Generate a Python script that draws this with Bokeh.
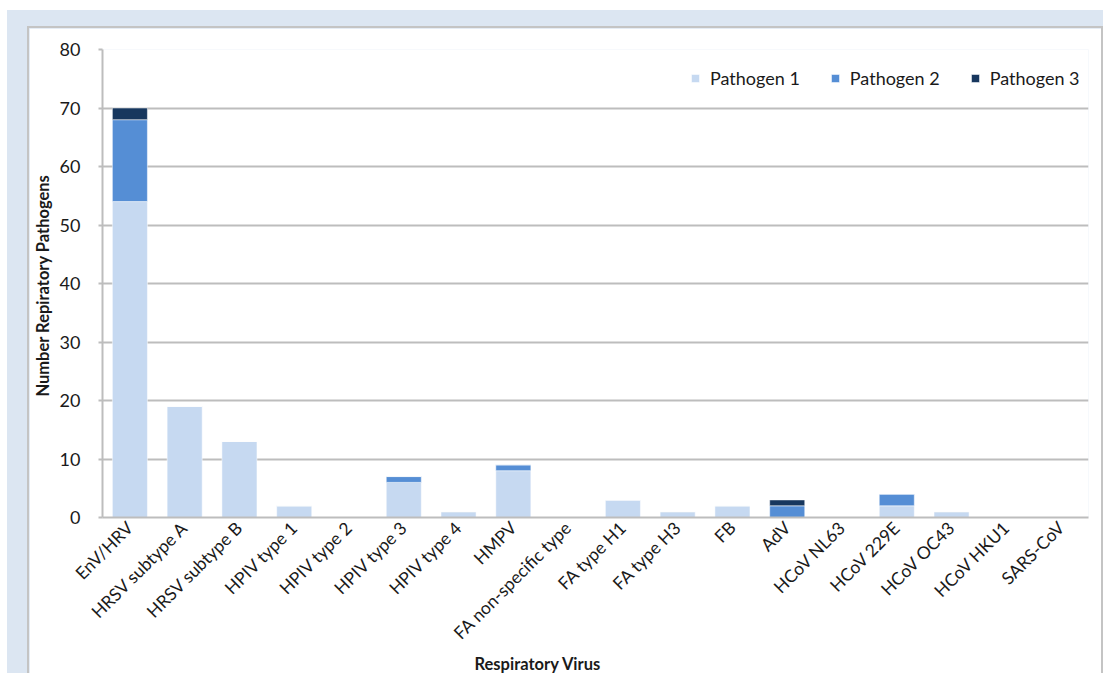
from math import pi

from bokeh.embed import file_html
from bokeh.layouts import column
from bokeh.models import ColumnDataSource, FactorRange, Legend, LegendItem, Title
from bokeh.plotting import figure
from bokeh.resources import INLINE

# Respiratory viruses detected, split by how many pathogens were present
viruses = [
    "EnV/HRV", "HRSV subtype A", "HRSV subtype B", "HPIV type 1", "HPIV type 2",
    "HPIV type 3", "HPIV type 4", "HMPV", "FA non-specific type", "FA type H1",
    "FA type H3", "FB", "AdV", "HCoV NL63", "HCoV 229E", "HCoV OC43",
    "HCoV HKU1", "SARS-CoV",
]
pathogen_1 = [54, 19, 13, 2, 0, 6, 1, 8, 0, 3, 1, 2, 0, 0, 2, 1, 0, 0]
pathogen_2 = [14, 0, 0, 0, 0, 1, 0, 1, 0, 0, 0, 0, 2, 0, 2, 0, 0, 0]
pathogen_3 = [2, 0, 0, 0, 0, 0, 0, 0, 0, 0, 0, 0, 1, 0, 0, 0, 0, 0]

series_keys = ["p1", "p2", "p3"]
series_names = ["Pathogen 1", "Pathogen 2", "Pathogen 3"]
series_colors = ["#c6d9f1", "#558ed5", "#17375e"]
y_ticks = [0, 10, 20, 30, 40, 50, 60, 70, 80]

FONT = "Lato"
TEXT = "#1a1a1a"
GRID = "#bdbdbd"

source = ColumnDataSource(dict(virus=viruses, p1=pathogen_1, p2=pathogen_2, p3=pathogen_3))

p = figure(
    x_range=FactorRange(*viruses, range_padding=0),
    y_range=(0, 80),
    frame_width=986, frame_height=468,
    min_border_left=73, min_border_top=21, min_border_right=13, min_border_bottom=20,
    output_backend="svg", toolbar_location=None,
    background_fill_color="white", border_fill_color="white",
    outline_line_color=None,
    margin=(18, 2, 0, 22),
    styles={"box-shadow": "0 0 0 2px #c4c4c4"},
)

renderers = p.vbar_stack(
    series_keys, x="virus", width=0.64, source=source,
    fill_color=series_colors, line_color="white", line_alpha=0.5, line_width=1,
)

legend = Legend(
    items=[LegendItem(label=n, renderers=[r]) for n, r in zip(series_names, renderers)],
    orientation="horizontal",
    border_line_alpha=0, background_fill_alpha=0,
    glyph_width=10, glyph_height=10, label_standoff=10, spacing=30,
    label_text_font=FONT, label_text_font_size="18px", label_text_color=TEXT,
    margin=0, padding=0, label_height=14,
)
legend.location = (588, 428)
p.add_layout(legend)

# y axis
p.yaxis.ticker = y_ticks
p.yaxis.axis_line_color = GRID
p.yaxis.axis_line_width = 2
p.yaxis.major_tick_line_color = GRID
p.yaxis.major_tick_line_width = 2
p.yaxis.major_tick_in = 0
p.yaxis.major_tick_out = 4
p.yaxis.minor_tick_line_color = None
p.yaxis.major_label_text_font = FONT
p.yaxis.major_label_text_font_size = "18px"
p.yaxis.major_label_text_color = TEXT
p.yaxis.major_label_standoff = 18
p.yaxis.axis_label = "Number  Repiratory Pathogens"
p.yaxis.axis_label_text_font = FONT
p.yaxis.axis_label_text_font_size = "16.5px"
p.yaxis.axis_label_text_font_style = "bold"
p.yaxis.axis_label_text_color = TEXT
p.yaxis.axis_label_standoff = 4

# x axis
p.xaxis.axis_line_color = GRID
p.xaxis.axis_line_width = 2
p.xaxis.major_tick_line_color = None
p.xaxis.minor_tick_line_color = None
p.xaxis.major_label_orientation = pi / 4
p.xaxis.major_label_text_font = FONT
p.xaxis.major_label_text_font_size = "17.5px"
p.xaxis.major_label_text_color = TEXT
p.xaxis.major_label_standoff = 1

# x axis title, set left of the frame centre
p.add_layout(
    Title(
        text="Respiratory Virus", align="left", offset=372, vertical_align="top",
        text_font=FONT, text_font_size="16.5px", text_font_style="bold",
        text_color=TEXT, standoff=0, text_line_height=0.9,
    ),
    "below",
)

p.xgrid.grid_line_color = None
p.ygrid.grid_line_color = GRID
p.ygrid.grid_line_width = 2

root = column(p, margin=(10, 0, 0, 7), styles={"background-color": "#dce6f2"})

with open("out.html", "w") as f:
    f.write(file_html(root, INLINE))
